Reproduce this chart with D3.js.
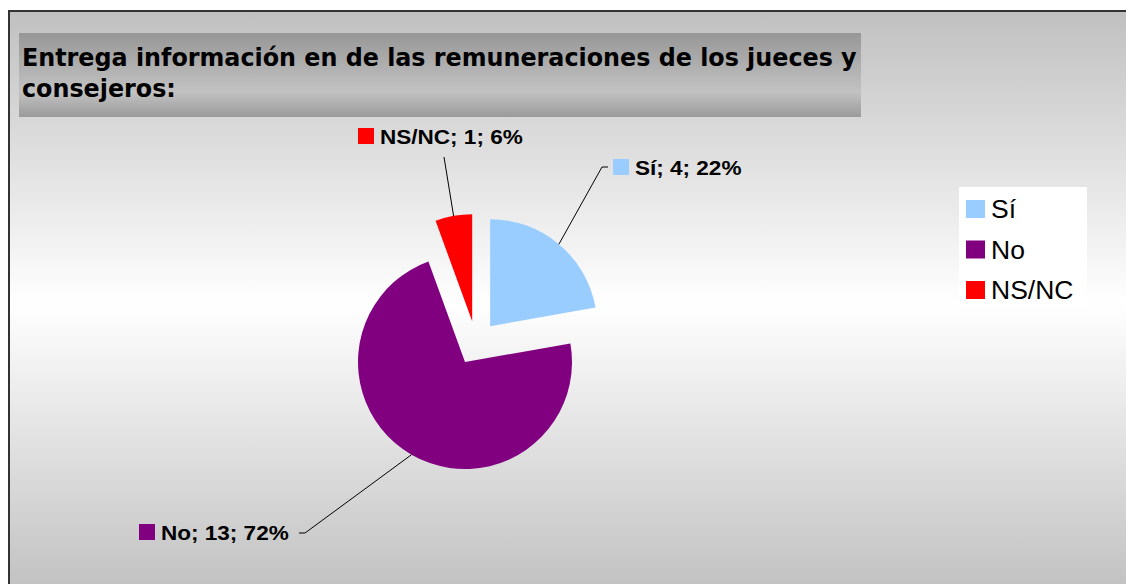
<!DOCTYPE html>
<html><head><meta charset="utf-8">
<script src="https://cdn.jsdelivr.net/npm/d3@7"></script>
<style>html,body{margin:0;padding:0;background:#fff;overflow:hidden}svg{display:block}</style>
</head><body><svg id="c" width="1126" height="584"></svg>
<script>
// ---- data ----
const categories = ["Sí", "No", "NS/NC"];
const values = [4, 13, 1];
const colors = ["#99CCFF", "#800080", "#FF0000"];
const titleLines = ["Entrega información en de las remuneraciones de los jueces y", "consejeros:"];

// ---- layout ----
const svg = d3.select("#c");
const defs = svg.append("defs");

const bg = defs.append("linearGradient").attr("id", "bg").attr("x1", 0).attr("y1", 0).attr("x2", 0).attr("y2", 1);
bg.append("stop").attr("offset", "0").attr("stop-color", "#c0c0c0");
bg.append("stop").attr("offset", "0.5").attr("stop-color", "#ffffff");
bg.append("stop").attr("offset", "1").attr("stop-color", "#c0c0c0");

const tg = defs.append("linearGradient").attr("id", "tg").attr("x1", 0).attr("y1", 0).attr("x2", 0).attr("y2", 1);
tg.append("stop").attr("offset", "0").attr("stop-color", "#979797");
tg.append("stop").attr("offset", "0.7").attr("stop-color", "#c2c2c2");
tg.append("stop").attr("offset", "1").attr("stop-color", "#9a9a9a");

// chart area
svg.append("rect").attr("x", 9).attr("y", 11).attr("width", 1200).attr("height", 585)
  .attr("fill", "url(#bg)");
svg.append("path").attr("d", "M9,600 V11 H1200").attr("fill", "none")
  .attr("stroke", "#333").attr("stroke-width", 2);

// title box
svg.append("rect").attr("x", 19).attr("y", 33).attr("width", 842).attr("height", 84).attr("fill", "url(#tg)");
const tl = svg.append("g").selectAll("text.t").data(titleLines).join("text")
  .attr("class", "t")
  .attr("font-family", "'DejaVu Sans Condensed','DejaVu Sans',sans-serif")
  .attr("font-stretch", "condensed")
  .attr("font-weight", "bold").attr("font-size", 25.5).attr("fill", "#000")
  .text(d => d);
const w0 = tl.nodes()[0].getComputedTextLength();
const ts = 835 / w0;
tl.attr("transform", (d, i) => `translate(22,${66 + i * 31}) scale(${ts},1)`);

// pie
const cx = 476, cy = 343, r = 107, explode = 22;
const total = d3.sum(values);
const pie = d3.pie().sort(null).value(d => d)(values);
const arc = d3.arc().innerRadius(0).outerRadius(r);
const pct = d3.format(".0%");

const off = d => {
  const m = (d.startAngle + d.endAngle) / 2;
  return [explode * Math.sin(m), -explode * Math.cos(m)];
};
svg.append("g").selectAll("path").data(pie).join("path")
  .attr("transform", d => { const o = off(d); return `translate(${cx + o[0]},${cy + o[1]})`; })
  .attr("d", arc)
  .attr("fill", (d, i) => colors[i]);

// data labels (layout: marker left x, baseline y, leader bend points)
const labelLayout = [
  { x: 613, y: 175, bend: [[602, 167], [608, 167]] },
  { x: 139, y: 540, bend: [[305, 533], [299, 533]] },
  { x: 358, y: 144, bend: [[444, 157]] }
];
const lblFont = 20.5;
pie.forEach((d, i) => {
  const m = (d.startAngle + d.endAngle) / 2;
  const o = off(d);
  const p0 = [cx + o[0] + r * Math.sin(m), cy + o[1] - r * Math.cos(m)];
  const L = labelLayout[i];
  svg.append("path")
    .attr("d", d3.line()([p0, ...L.bend]))
    .attr("fill", "none").attr("stroke", "#000").attr("stroke-width", 1);
  svg.append("rect").attr("x", L.x).attr("y", L.y - 16).attr("width", 16).attr("height", 16)
    .attr("fill", colors[i]);
  const t = svg.append("text")
    .attr("font-family", "'Liberation Sans',Arial,sans-serif")
    .attr("font-weight", "bold").attr("font-size", lblFont).attr("fill", "#000")
    .text(`${categories[i]}; ${values[i]}; ${pct(values[i] / total)}`);
  const s = 1.1;
  t.attr("transform", `translate(${L.x + 22},${L.y}) scale(${s},1)`);
});

// legend
const lg = svg.append("g");
lg.append("rect").attr("x", 959).attr("y", 187).attr("width", 128).attr("height", 122).attr("fill", "#fff");
const items = lg.selectAll("g.item").data(categories).join("g").attr("class", "item")
  .attr("transform", (d, i) => `translate(966,${218 + i * 40.5})`);
items.append("rect").attr("x", 0).attr("y", -18).attr("width", 19).attr("height", 18)
  .attr("fill", (d, i) => colors[i]);
items.append("text").attr("transform", "translate(25,0) scale(1.06,1)")
  .attr("font-family", "'Liberation Sans',Arial,sans-serif")
  .attr("font-size", 25).attr("fill", "#000")
  .text(d => d);
</script>
</body></html>
